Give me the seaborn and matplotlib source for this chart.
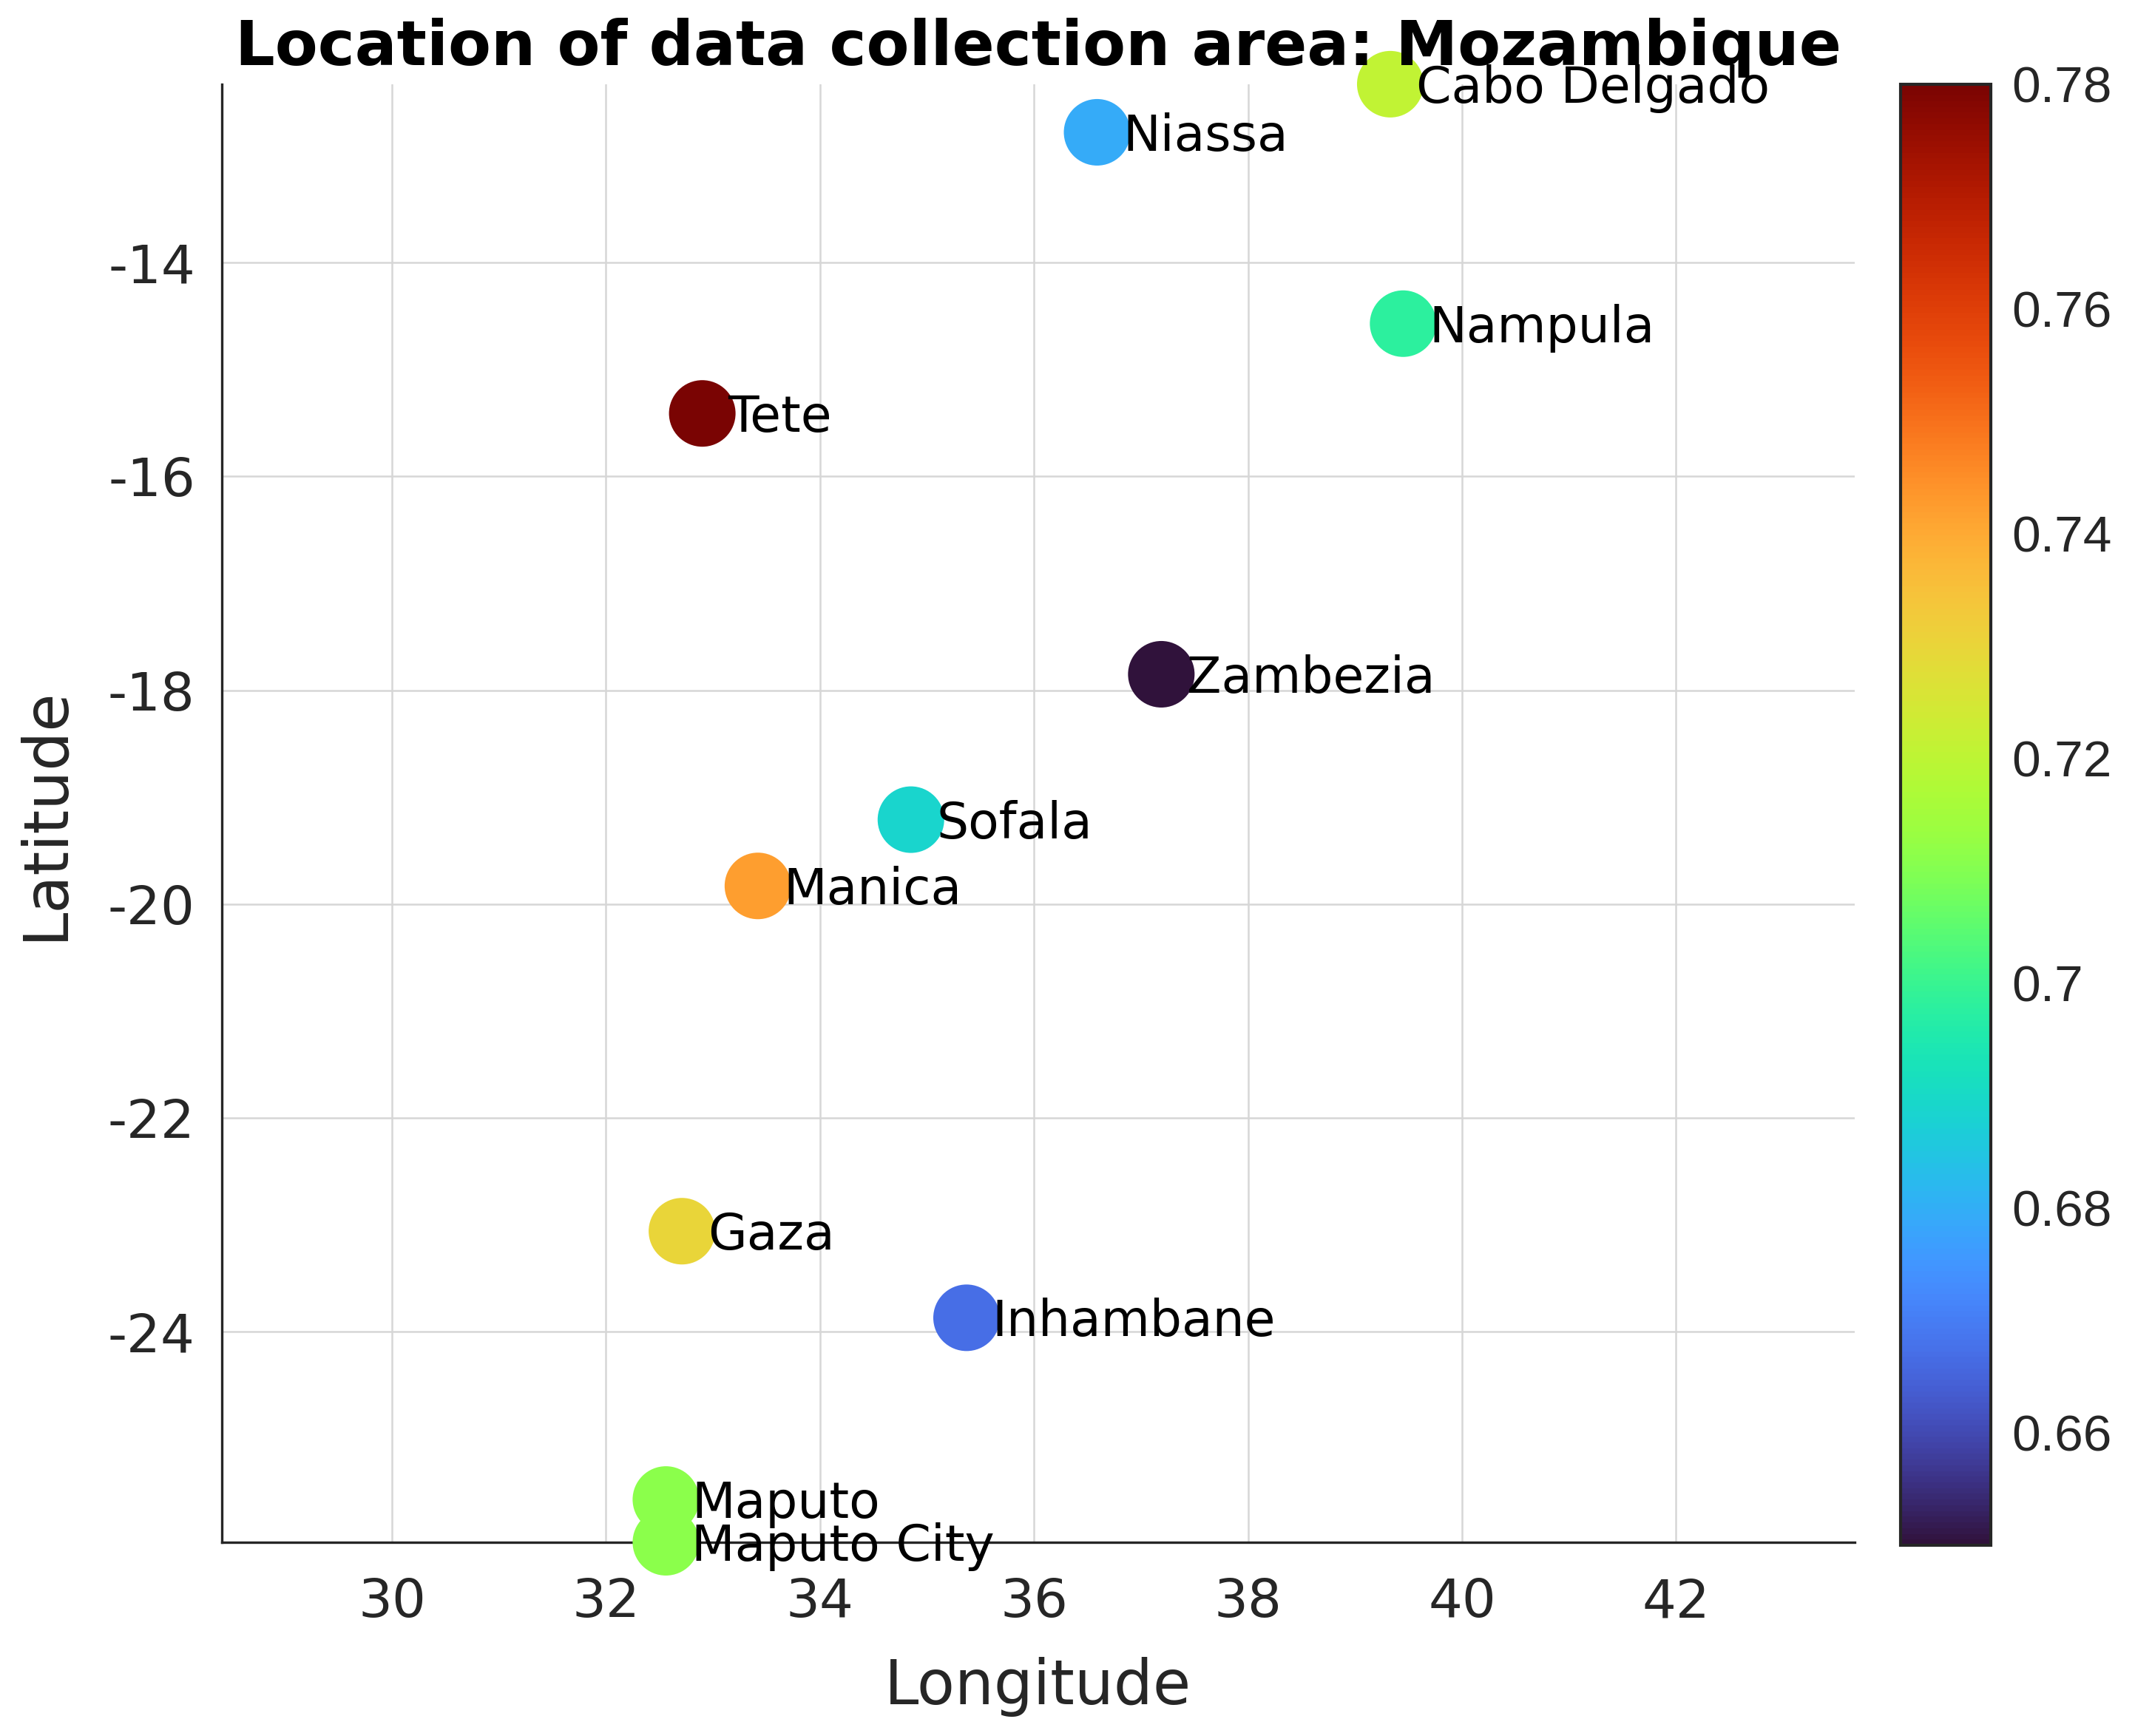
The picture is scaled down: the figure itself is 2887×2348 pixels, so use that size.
import matplotlib
matplotlib.use("Agg")
import matplotlib.pyplot as plt
import matplotlib.colors as mcolors
import pandas as pd
import seaborn as sns

# provinces, coordinates and the value shown by colour
provinces = ["Cabo Delgado", "Niassa", "Nampula", "Tete", "Zambezia", "Sofala",
             "Manica", "Gaza", "Inhambane", "Maputo", "Maputo City"]
longitude = [39.33, 36.59, 39.45, 32.90, 37.19, 34.85, 33.42, 32.71, 35.37, 32.56, 32.56]
latitude = [-12.33, -12.78, -14.57, -15.41, -17.85, -19.21, -19.83, -23.06, -23.87, -25.57, -25.97]
score = [0.721, 0.679, 0.698, 0.780, 0.650, 0.689, 0.742, 0.730, 0.667, 0.711, 0.711]

cbar_ticks = [0.66, 0.68, 0.70, 0.72, 0.74, 0.76, 0.78]

df = pd.DataFrame({"Province": provinces, "Longitude": longitude,
                   "Latitude": latitude, "Score": score})

sns.set_style("white")
plt.rcParams["font.family"] = ["DejaVu Sans"]
plt.rcParams["axes.unicode_minus"] = False

fig = plt.figure(figsize=(14.435, 11.74), dpi=200)
ax = fig.add_axes([0.1039, 0.1116, 0.7648, 0.8399])

norm = mcolors.Normalize(vmin=0.65, vmax=0.78)
sns.scatterplot(data=df, x="Longitude", y="Latitude", hue="Score",
                palette="turbo", hue_norm=norm, s=1050, linewidth=0,
                legend=False, ax=ax, zorder=3, clip_on=False)

for _, row in df.iterrows():
    ax.annotate(row["Province"], (row["Longitude"], row["Latitude"]),
                xytext=(12.5, -9), textcoords="offset points",
                va="baseline", ha="left", fontsize=24.5, color="black",
                zorder=4, annotation_clip=False)

ax.set_xlim(28.41, 43.67)
ax.set_ylim(-25.97, -12.33)
ax.set_xticks([30, 32, 34, 36, 38, 40, 42])
ax.set_yticks([-14, -16, -18, -20, -22, -24])

ax.grid(True, color="#d6d6d6", linewidth=0.9)
ax.set_axisbelow(True)
for side in ["top", "right"]:
    ax.spines[side].set_visible(False)
for side in ["left", "bottom"]:
    ax.spines[side].set_color("#262626")
    ax.spines[side].set_linewidth(1.2)

ax.tick_params(axis="both", direction="in", length=8, width=1.1,
               colors="#262626", labelsize=26)
ax.tick_params(axis="x", pad=17)
ax.tick_params(axis="y", pad=13)

ax.set_xlabel("Longitude", fontsize=30, color="#262626", labelpad=14)
ax.set_ylabel("Latitude", fontsize=30, color="#262626", labelpad=16)

fig.text(0.4864, 0.9625, "Location of data collection area: Mozambique",
         ha="center", va="baseline", fontsize=30.4, fontweight="bold",
         color="black")

# colorbar
cax = fig.add_axes([0.8902, 0.1099, 0.0423, 0.8416])
sm = plt.cm.ScalarMappable(norm=norm, cmap="turbo")
cb = fig.colorbar(sm, cax=cax, ticks=cbar_ticks, format="%g")
cb.outline.set_edgecolor("#262626")
cb.outline.set_linewidth(1.5)
cax.tick_params(direction="in", length=9, width=1.1, colors="#262626",
                labelsize=25, pad=10)
for lab in cax.get_yticklabels():
    lab.set_family("Liberation Sans")

fig.savefig("out.png", dpi=200, facecolor="white")
